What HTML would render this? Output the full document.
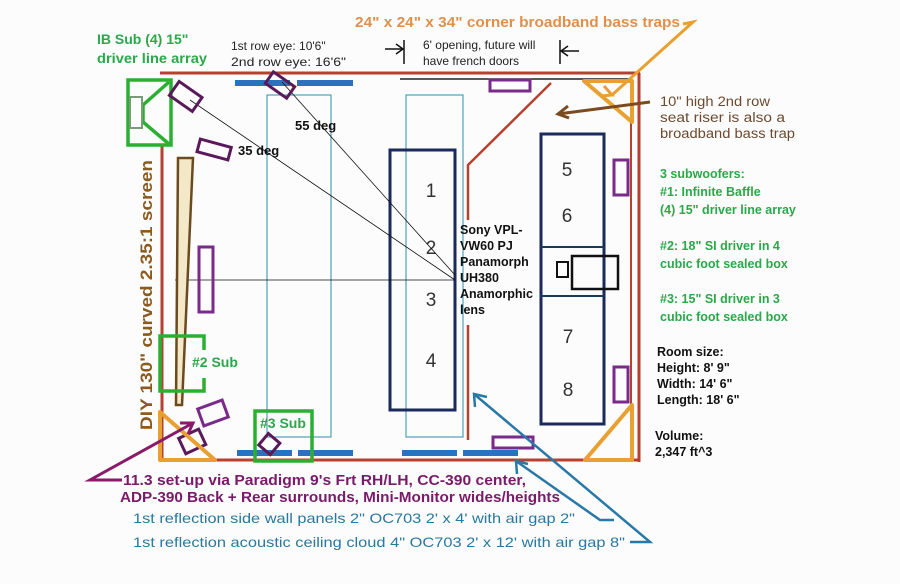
<!DOCTYPE html>
<html><head><meta charset="utf-8"><style>
html,body{margin:0;padding:0;background:#fff}
svg{display:block}
text{font-family:"Liberation Sans",sans-serif}
</style></head><body>
<svg width="900" height="584" viewBox="0 0 900 584" xmlns="http://www.w3.org/2000/svg">
<rect width="900" height="584" fill="#fcfcfc"/>
<g stroke="#b8402f" stroke-width="3" fill="none">
<line x1="160" y1="73" x2="640" y2="73"/>
<line x1="639" y1="73" x2="639" y2="462"/>
<line x1="160" y1="460" x2="640" y2="460"/>
<line x1="162" y1="145" x2="162" y2="458"/>
<line x1="631" y1="85" x2="631" y2="455" stroke-width="2"/>
</g>
<line x1="400" y1="79" x2="632" y2="79" stroke="#222" stroke-width="1.5"/>
<polyline points="551,83 468,165 468,220" stroke="#b8402f" stroke-width="2.5" fill="none"/>
<line x1="468" y1="325" x2="468" y2="440" stroke="#b8402f" stroke-width="2.5"/>
<rect x="267" y="95" width="64" height="342" fill="none" stroke="#2a90a8" stroke-width="1"/>
<rect x="406" y="95" width="57" height="342" fill="none" stroke="#2a90a8" stroke-width="1"/>
<g fill="#2a72c0">
<rect x="235" y="80" width="55" height="6"/><rect x="297" y="80" width="56" height="6"/>
<rect x="237" y="450" width="55" height="6"/><rect x="298" y="450" width="55" height="6"/>
<rect x="402" y="450" width="55" height="6"/><rect x="463" y="450" width="55" height="6"/>
</g>
<rect x="390" y="150" width="65" height="260" fill="none" stroke="#1a2a5a" stroke-width="3"/>
<rect x="541" y="134" width="63" height="290" fill="none" stroke="#1a2a5a" stroke-width="3"/>
<line x1="541" y1="247" x2="604" y2="247" stroke="#1a3a5a" stroke-width="2"/>
<line x1="541" y1="296" x2="604" y2="296" stroke="#1a3a5a" stroke-width="2"/>
<rect x="572" y="256" width="46" height="33" fill="none" stroke="#111" stroke-width="2.5"/>
<rect x="557" y="262" width="11" height="15" fill="none" stroke="#111" stroke-width="2"/>
<g font-size="19" fill="#333" text-anchor="middle">
<text x="431" y="197">1</text><text x="431" y="254">2</text><text x="431" y="306">3</text><text x="431" y="367">4</text>
<text x="567" y="176">5</text><text x="567" y="222">6</text><text x="568" y="343">7</text><text x="568" y="396">8</text>
</g>
<g stroke="#111" stroke-width="0.8">
<line x1="190" y1="100" x2="455" y2="280"/>
<line x1="282" y1="82" x2="455" y2="275"/>
<line x1="175" y1="280" x2="455" y2="280"/>
</g>
<text x="295" y="130" font-size="13" font-weight="bold" fill="#111">55 deg</text>
<text x="238" y="155" font-size="13" font-weight="bold" fill="#111">35 deg</text>
<g stroke="#2ab030" stroke-width="3.5" fill="none">
<rect x="128" y="80" width="43" height="65"/>
<polyline points="169,82 143,105 143,122 169,144"/>
</g>
<rect x="130" y="97" width="12" height="31" fill="none" stroke="#7a9a7a" stroke-width="2"/>
<path d="M178,158 L193,158 L182,405 L176,405 Z" fill="#f3e8c8" stroke="#6b4a20" stroke-width="2.5"/>
<text transform="translate(152,430) rotate(-90)" font-family="Liberation Serif,serif" font-size="17" font-weight="bold" fill="#8b5a1e" textLength="270" lengthAdjust="spacingAndGlyphs">DIY 130" curved 2.35:1 screen</text>
<g stroke="#5a1a5a" stroke-width="3" fill="none">
<rect x="172" y="88" width="28" height="17" transform="rotate(35 186 96)"/>
<rect x="267" y="78" width="26" height="14" transform="rotate(35 280 85)"/>
<rect x="198" y="143" width="32" height="13" transform="rotate(15 214 150)"/>
<rect x="199" y="247" width="14" height="65" stroke="#7a2a8a"/>
<rect x="614" y="160" width="14" height="35" stroke="#7a2a8a"/>
<rect x="614" y="367" width="14" height="35" stroke="#7a2a8a"/>
<rect x="490" y="80" width="40" height="11" stroke="#7a2a8a"/>
<rect x="493" y="437" width="40" height="11" stroke="#7a2a8a"/>
<rect x="200" y="404" width="26" height="18" transform="rotate(-20 213 413)" stroke="#7a2a8a"/>
<rect x="181" y="433" width="22" height="17" transform="rotate(-25 192 441)"/>
<rect x="262" y="437" width="15" height="15" transform="rotate(40 270 444)"/>
</g>
<polyline points="204,350 204,336 160,336 160,391 204,391 204,378" stroke="#2ab030" stroke-width="3.5" fill="none"/>
<text x="192" y="367" font-size="14" font-weight="bold" fill="#2aa84a">#2 Sub</text>
<rect x="255" y="411" width="57" height="50" fill="none" stroke="#2ab030" stroke-width="3.5"/>
<text x="260" y="428" font-size="14" font-weight="bold" fill="#2aa84a">#3 Sub</text>
<g stroke="#e8a030" stroke-width="4" fill="none" stroke-linejoin="round">
<polygon points="584,81 632,81 632,122"/>
<polygon points="160,412 160,460 215,460"/>
<polygon points="632,405 632,460 585,460"/>
</g>
<polyline points="683,24 693,22 612,95" stroke="#e8a030" stroke-width="3" fill="none"/>
<polyline points="604,86 612,95 600,96" stroke="#e8a030" stroke-width="3" fill="none"/>
<line x1="650" y1="102" x2="558" y2="114" stroke="#7a4a20" stroke-width="3"/>
<polyline points="568,106 558,114 569,118" stroke="#7a4a20" stroke-width="3" fill="none"/>
<polyline points="122,480 90,480 193,423" stroke="#8a1a6a" stroke-width="3" fill="none"/>
<polyline points="180,423 193,423 188,434" stroke="#8a1a6a" stroke-width="3" fill="none"/>
<polyline points="614,520 600,520 516,461" stroke="#2878a8" stroke-width="2.5" fill="none"/>
<polyline points="517,474 516,461 528,464" stroke="#2878a8" stroke-width="2.5" fill="none"/>
<polyline points="630,542 650,542 474,394" stroke="#2878a8" stroke-width="2.5" fill="none"/>
<polyline points="475,407 474,394 487,397" stroke="#2878a8" stroke-width="2.5" fill="none"/>
<g stroke="#111" stroke-width="1.5" fill="none">
<line x1="404" y1="40" x2="404" y2="64"/><line x1="385" y1="49" x2="403" y2="49"/><polyline points="396,44 403,49 396,54"/>
<line x1="560" y1="40" x2="560" y2="64"/><line x1="561" y1="51" x2="579" y2="51"/><polyline points="568,46 561,51 568,56"/>
</g>
<text x="355" y="27" font-size="15" font-weight="bold" fill="#e0904a" textLength="325" lengthAdjust="spacingAndGlyphs">24" x 24" x 34" corner broadband bass traps</text>
<text x="97" y="44" font-size="14" font-weight="bold" fill="#2aa84a">IB Sub (4) 15"</text>
<text x="97" y="63" font-size="14" font-weight="bold" fill="#2aa84a" textLength="110" lengthAdjust="spacingAndGlyphs">driver line array</text>
<text x="231" y="50" font-size="12" fill="#222">1st row eye: 10'6"</text>
<text x="231" y="66" font-size="12" fill="#222" textLength="115" lengthAdjust="spacingAndGlyphs">2nd row eye: 16'6"</text>
<text x="423" y="49" font-size="12" fill="#222">6' opening, future will</text>
<text x="423" y="65" font-size="12" fill="#222">have french doors</text>
<g font-size="12.5" font-weight="bold" fill="#111">
<text x="460" y="234">Sony VPL-</text><text x="460" y="250">VW60 PJ</text><text x="460" y="266">Panamorph</text>
<text x="460" y="282">UH380</text><text x="460" y="298">Anamorphic</text><text x="460" y="314">lens</text>
</g>
<g font-size="13.5" fill="#6b4a30">
<text x="660" y="106" textLength="110" lengthAdjust="spacingAndGlyphs">10" high 2nd row</text>
<text x="660" y="122" textLength="125" lengthAdjust="spacingAndGlyphs">seat riser is also a</text>
<text x="660" y="138" textLength="135" lengthAdjust="spacingAndGlyphs">broadband bass trap</text>
</g>
<g font-size="12.5" font-weight="bold" fill="#2aa84a">
<text x="660" y="178">3 subwoofers:</text><text x="660" y="196">#1:  Infinite Baffle</text><text x="660" y="214">(4) 15" driver line array</text>
<text x="660" y="250">#2:  18" SI driver in 4</text><text x="660" y="268">cubic foot sealed box</text>
<text x="660" y="303">#3:  15" SI driver in 3</text><text x="660" y="321">cubic foot sealed box</text>
</g>
<g font-size="12.5" font-weight="bold" fill="#111">
<text x="657" y="356">Room size:</text><text x="657" y="372">Height: 8' 9"</text><text x="657" y="388">Width: 14' 6"</text><text x="657" y="404">Length: 18' 6"</text>
<text x="655" y="440">Volume:</text><text x="655" y="456">2,347 ft^3</text>
</g>
<g font-size="14.5" font-weight="bold" fill="#7a1a6a">
<text x="123" y="485" textLength="403" lengthAdjust="spacingAndGlyphs">11.3 set-up via Paradigm 9's Frt RH/LH, CC-390 center,</text>
<text x="120" y="502" textLength="440" lengthAdjust="spacingAndGlyphs">ADP-390 Back + Rear surrounds, Mini-Monitor  wides/heights</text>
</g>
<g font-size="14" fill="#2878a0">
<text x="133" y="523" textLength="442" lengthAdjust="spacingAndGlyphs">1st reflection side wall panels 2" OC703 2' x 4' with air gap 2"</text>
<text x="133" y="547" textLength="492" lengthAdjust="spacingAndGlyphs">1st reflection acoustic ceiling cloud 4" OC703 2' x 12' with air gap 8"</text>
</g>
</svg>
</body></html>
